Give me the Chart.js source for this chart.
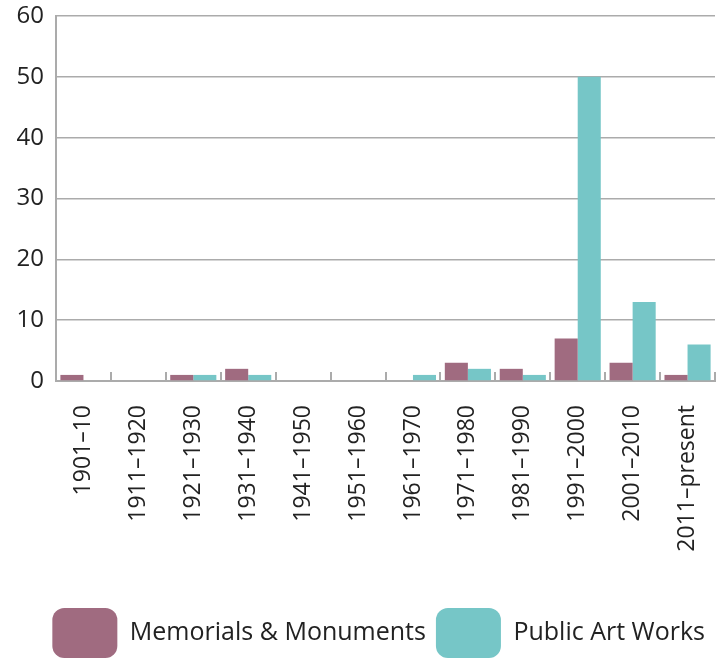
<!DOCTYPE html>
<html>
<head>
<meta charset="utf-8">
<script src="https://cdn.jsdelivr.net/npm/chart.js@4/dist/chart.umd.min.js"></script>
<style>
html,body{margin:0;padding:0;background:#fff;}
#wrap{width:717px;height:659px;position:relative;}
</style>
</head>
<body>
<div id="wrap"><canvas id="c"></canvas></div>
<script>
const categories = ["1901–10","1911–1920","1921–1930","1931–1940","1941–1950","1951–1960","1961–1970","1971–1980","1981–1990","1991–2000","2001–2010","2011–present"];
const memorials = [1,0,1,2,0,0,0,3,2,7,3,1];
const publicArt = [0,0,1,1,0,0,1,2,1,50,13,6];
const yTicks = [0,10,20,30,40,50,60];

const FONT = "'Open Sans', 'Noto Sans', sans-serif";
const GRID = "#ababab";

new Chart(document.getElementById('c'), {
  type: 'bar',
  data: {
    labels: categories,
    datasets: [
      {label: 'Memorials & Monuments', data: memorials, backgroundColor: '#a06b80', borderWidth: 0},
      {label: 'Public Art Works', data: publicArt, backgroundColor: '#76c6c7', borderWidth: 0}
    ]
  },
  options: {
    responsive: true,
    maintainAspectRatio: false,
    animation: false,
    layout: {padding: {left: 12, right: 2, top: 16, bottom: -9}},
    datasets: {bar: {categoryPercentage: 0.84, barPercentage: 1.0}},
    plugins: {
      tooltip: {enabled: false},
      legend: {
        position: 'bottom',
        align: 'end',
        labels: {
          color: '#222',
          font: {family: FONT, size: 25},
          boxWidth: 65,
          boxHeight: 50,
          padding: 10,
          useBorderRadius: true,
          borderRadius: 12
        }
      }
    },
    scales: {
      x: {
        offset: true,
        afterFit: (s) => { s.paddingRight = 0; s.paddingLeft = 0; s.height = 217; },
        grid: {display: true, offset: true, drawOnChartArea: false, drawTicks: true, tickLength: -9, color: GRID, lineWidth: 2},
        border: {display: true, color: GRID, width: 2},
        ticks: {
          color: '#222',
          font: {family: FONT, size: 23},
          maxRotation: 90, minRotation: 90,
          padding: 33,
          autoSkip: false
        }
      },
      y: {
        min: 0, max: 60,
        afterBuildTicks: (s) => { s.ticks = yTicks.map(v => ({value: v})); },
        afterFit: (s) => { s.width = 44; s.paddingTop = 0; s.paddingBottom = 0; },
        grid: {color: GRID, lineWidth: 1.5, drawTicks: false},
        border: {display: true, color: GRID, width: 2},
        ticks: {color: '#222', font: {family: FONT, size: 24}, padding: 12}
      }
    }
  }
});
</script>
</body>
</html>
